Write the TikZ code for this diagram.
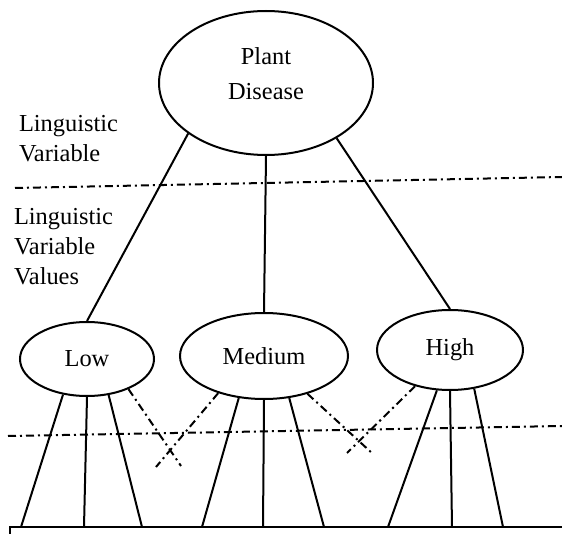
\documentclass[tikz,border=0pt]{standalone}
\usepackage{fontspec}
\setmainfont{Liberation Serif}
\usetikzlibrary{shapes.geometric}

\begin{document}
\begin{tikzpicture}[x=0.5pt,y=-0.5pt,line width=1pt,
  every node/.style={font=\fontsize{12.2}{15.2}\selectfont},
  oval/.style={draw,ellipse,inner sep=0pt},
  dashdot/.style={dash pattern=on 4pt off 2pt on 1pt off 2pt}]
  \useasboundingbox (0,0) rectangle (562,534);
  \node[oval,minimum width=107pt,minimum height=72pt] (disease) at (266,83) {};
  \node[anchor=base,align=center,inner sep=0pt,font=\fontsize{12.2}{17.5}\selectfont] (diseasetext) at (266,100) {Plant\\Disease};
  \node[oval,minimum width=67pt,minimum height=37pt] (low) at (87,359) {Low};
  \node[oval,minimum width=84pt,minimum height=43pt] (medium) at (264,356) {Medium};
  \node[oval,minimum width=73pt,minimum height=40pt] (high) at (450,350) {High};
  \node[anchor=base west,align=left,inner sep=0pt] (lv) at (18,162) {Linguistic\\Variable};
  \node[anchor=base west,align=left,inner sep=0pt] (lvv) at (13,285) {Linguistic\\Variable\\Values};
  \draw (disease.213) -- (low.north);
  \draw (disease.south) -- (medium.north);
  \draw (disease.322) -- (high.north);
  \draw[dashdot] (15,188) -- (562,177);
  \draw[dashdot] (8,436) -- (562,426);
  \coordinate (b1) at (21,527);  \coordinate (b2) at (84,527);  \coordinate (b3) at (142,527);
  \coordinate (b4) at (202,527); \coordinate (b5) at (263,527); \coordinate (b6) at (324,527);
  \coordinate (b7) at (388,527); \coordinate (b8) at (452,527); \coordinate (b9) at (503,527);
  \draw (low.236) -- (b1);  \draw (low.south) -- (b2);  \draw (low.301) -- (b3);
  \draw (medium.239) -- (b4); \draw (medium.south) -- (b5); \draw (medium.301) -- (b6);
  \draw (high.252) -- (b7); \draw (high.south) -- (b8); \draw (high.302) -- (b9);
  \coordinate (x1) at (181,466); \coordinate (x2) at (156,467);
  \coordinate (x3) at (373,454); \coordinate (x4) at (347,453);
  \draw[dashdot] (low.324) -- (x1);
  \draw[dashdot] (medium.219) -- (x2);
  \draw[dashdot] (medium.319) -- (x3);
  \draw[dashdot] (high.226) -- (x4);
  \draw (10,534) -- (10,527) -- (562,527);
\end{tikzpicture}
\end{document}
